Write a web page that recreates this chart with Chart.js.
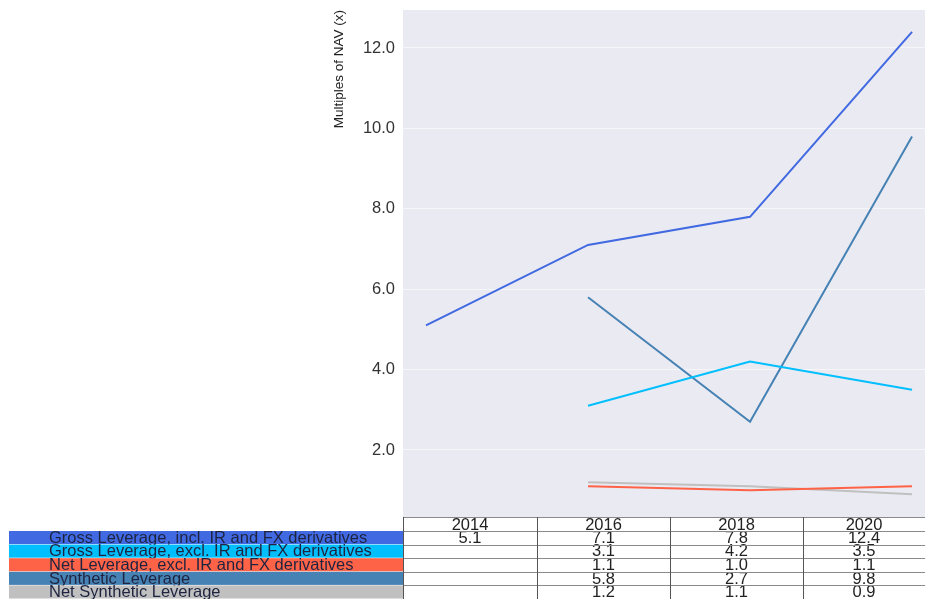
<!DOCTYPE html>
<html>
<head>
<meta charset="utf-8">
<script src="https://cdn.jsdelivr.net/npm/chart.js@4"></script>
<style>
  html, body { margin: 0; padding: 0; background: #fff; }
  #wrap { width: 925px; height: 599px; }
</style>
</head>
<body>
<div id="wrap"><canvas id="chart" width="925" height="599"></canvas></div>
<script>
// ===== Data =====
const years = ["2014", "2016", "2018", "2020"];
const seriesNames = [
  "Gross Leverage, incl. IR and FX derivatives",
  "Gross Leverage, excl. IR and FX derivatives",
  "Net Leverage, excl. IR and FX derivatives",
  "Synthetic Leverage",
  "Net Synthetic Leverage"
];
const grossIncl    = [5.1, 7.1, 7.8, 12.4];
const grossExcl    = [null, 3.1, 4.2, 3.5];
const netExcl      = [null, 1.1, 1.0, 1.1];
const synthetic    = [null, 5.8, 2.7, 9.8];
const netSynthetic = [null, 1.2, 1.1, 0.9];
const yTicks = [2, 4, 6, 8, 10, 12];

const seriesValues = [grossIncl, grossExcl, netExcl, synthetic, netSynthetic];
const seriesColors = ["#4169e1", "#00bfff", "#ff6347", "#4682b4", "#c0c0c0"];

// ===== Layout of the table under the plot =====
const table = {
  top: 517,
  headH: 14,
  rowH: 13.6,
  labelLeft: 9,
  colEdges: [403, 537, 670, 803, 925]
};

function toPoints(arr) {
  return arr.map((v, i) => ({ x: i, y: v }));
}

// ===== Plugins =====
const bgPlugin = {
  id: "bg",
  beforeDraw(chart) {
    const { ctx, chartArea: a } = chart;
    ctx.save();
    ctx.fillStyle = "#fff";
    ctx.fillRect(0, 0, chart.width, chart.height);
    ctx.fillStyle = "#eaeaf2";
    ctx.fillRect(a.left, a.top, a.right - a.left, a.bottom - a.top);
    ctx.restore();
  }
};

const tablePlugin = {
  id: "table",
  afterDraw(chart) {
    const ctx = chart.ctx;
    const e = table.colEdges;
    ctx.save();
    ctx.font = "16.5px 'Liberation Sans', Arial, sans-serif";
    ctx.textBaseline = "middle";

    // header cells
    ctx.fillStyle = "#fff";
    ctx.fillRect(e[0], table.top, e[e.length - 1] - e[0], table.headH);
    ctx.fillStyle = "#222";
    ctx.textAlign = "center";
    years.forEach((y, i) => {
      ctx.fillText(y, (e[i] + e[i + 1]) / 2, table.top + table.headH / 2 + 1);
    });

    // rows
    const rowsTop = table.top + table.headH;
    seriesNames.forEach((name, r) => {
      const y0 = rowsTop + r * table.rowH;
      ctx.fillStyle = seriesColors[r];
      ctx.fillRect(table.labelLeft, y0, e[0] - table.labelLeft, table.rowH - 0.5);
      ctx.fillStyle = "#1e2440";
      ctx.textAlign = "left";
      ctx.fillText(name, 49, y0 + table.rowH / 2 + 0.5);
      ctx.fillStyle = "#222";
      ctx.textAlign = "center";
      seriesValues[r].forEach((v, i) => {
        if (v === null) return;
        ctx.fillText(v.toFixed(1), (e[i] + e[i + 1]) / 2, y0 + table.rowH / 2 + 0.5);
      });
    });

    // grid lines of the table
    ctx.strokeStyle = "#8a8a8a";
    ctx.lineWidth = 1;
    ctx.beginPath();
    ctx.moveTo(e[0], table.top + 0.5);
    ctx.lineTo(e[e.length - 1], table.top + 0.5);
    for (let r = 0; r <= seriesNames.length; r++) {
      const y = Math.round(rowsTop + r * table.rowH) + 0.5;
      ctx.moveTo(e[0], y);
      ctx.lineTo(e[e.length - 1], y);
    }
    ctx.stroke();
    ctx.strokeStyle = "#555";
    ctx.beginPath();
    for (let i = 0; i < e.length - 1; i++) {
      ctx.moveTo(e[i] + 0.5, table.top);
      ctx.lineTo(e[i] + 0.5, chart.height);
    }
    ctx.stroke();
    ctx.restore();
  }
};

// ===== Chart =====
new Chart(document.getElementById("chart"), {
  type: "line",
  data: {
    datasets: seriesNames.map((name, i) => ({
      label: name,
      data: toPoints(seriesValues[i]),
      borderColor: seriesColors[i],
      backgroundColor: seriesColors[i],
      borderWidth: 2,
      pointRadius: 0,
      tension: 0,
      spanGaps: false
    }))
  },
  options: {
    responsive: false,
    animation: false,
    devicePixelRatio: 1,
    layout: { padding: { left: 325, top: 10, right: 0, bottom: 82 } },
    plugins: { legend: { display: false }, tooltip: { enabled: false } },
    scales: {
      x: {
        type: "linear",
        min: -0.142,
        max: 3.08,
        display: false
      },
      y: {
        min: 0.333,
        max: 12.945,
        afterFit(scale) {
          scale.width = 78;
          scale.paddingTop = 0;
          scale.paddingBottom = 0;
        },
        afterBuildTicks(scale) { scale.ticks = yTicks.map(v => ({ value: v })); },
        grid: { color: "rgba(255,255,255,0.55)", drawTicks: false },
        border: { display: false },
        ticks: {
          padding: 8,
          color: "#333",
          font: { family: "'Liberation Sans', Arial, sans-serif", size: 16.5 },
          callback: v => v.toFixed(1)
        },
        title: {
          display: true,
          text: "Multiples of NAV (x)",
          align: "end",
          color: "#222",
          padding: { top: 6, bottom: 0 },
          font: { family: "'Liberation Sans', Arial, sans-serif", size: 13.5 }
        }
      }
    }
  },
  plugins: [bgPlugin, tablePlugin]
});
</script>
</body>
</html>
